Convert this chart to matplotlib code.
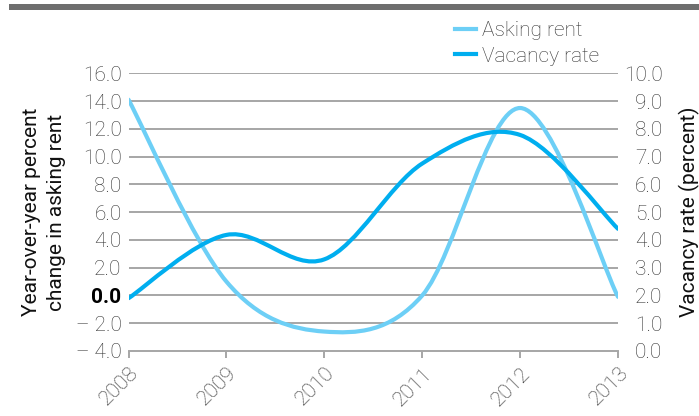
import matplotlib.pyplot as plt
import numpy as np
from matplotlib.path import Path
from matplotlib.patches import PathPatch, Rectangle
from matplotlib.lines import Line2D

plt.rcParams['font.family'] = ['Roboto', 'DejaVu Sans']
plt.rcParams['font.weight'] = 'light'

years = [2008, 2009, 2010, 2011, 2012, 2013]
asking_rent = [14.1, 1.0, -2.6, 0.0, 13.5, -0.1]     # year-over-year % change
vacancy_rate = [1.9, 4.18, 3.3, 6.75, 7.78, 4.4]     # percent

left_ticks = [16, 14, 12, 10, 8, 6, 4, 2, 0, -2, -4]
right_ticks = [10, 9, 8, 7, 6, 5, 4, 3, 2, 1, 0]

rent_color = '#6dcff6'
vac_color = '#00aeef'
grid_color = '#a6a6a6'
text_color = '#333333'
fs = 15


def smooth_path(x, y):
    """Cubic Bezier path through the points (spreadsheet-style smoothed line)."""
    x = np.asarray(x, float)
    y = np.asarray(y, float)
    n = len(x)
    verts = [(x[0], y[0])]
    codes = [Path.MOVETO]
    for i in range(n - 1):
        p0 = max(i - 1, 0)
        p3 = min(i + 2, n - 1)
        c1 = (x[i] + (x[i + 1] - x[p0]) / 6, y[i] + (y[i + 1] - y[p0]) / 6)
        c2 = (x[i + 1] - (x[p3] - x[i]) / 6, y[i + 1] - (y[p3] - y[i]) / 6)
        verts += [c1, c2, (x[i + 1], y[i + 1])]
        codes += [Path.CURVE4] * 3
    return Path(verts, codes)


fig = plt.figure(figsize=(6.99, 4.16), dpi=100)
ax = fig.add_axes([128.5 / 699, 1 - 351 / 416, (618 - 128.5) / 699, (351 - 73.3) / 416])
ax2 = ax.twinx()

# top rule
fig.patches.append(Rectangle((9 / 699, 1 - 9.5 / 416), 1, 5.5 / 416,
                             transform=fig.transFigure, color='#6e6e6e', lw=0))

ax.set_xlim(2008, 2013)
ax.set_ylim(-4, 16)
ax2.set_ylim(0, 10)

for v in left_ticks:
    if v != -4:
        ax.axhline(v, color=grid_color, lw=1.4, zorder=1)

ax.add_patch(PathPatch(smooth_path(years, asking_rent), fill=False,
                       edgecolor=rent_color, lw=3, zorder=3, capstyle='round'))
ax2.add_patch(PathPatch(smooth_path(years, vacancy_rate), fill=False,
                        edgecolor=vac_color, lw=3, zorder=3, capstyle='round'))

for s in ['top', 'left', 'right']:
    ax.spines[s].set_visible(False)
    ax2.spines[s].set_visible(False)
ax2.spines['bottom'].set_visible(False)
ax.spines['bottom'].set_color(grid_color)
ax.spines['bottom'].set_linewidth(1.4)

ax.set_xticks(years)
ax.set_xticklabels([str(y) for y in years], rotation=45, ha='right',
                   rotation_mode='anchor', color=text_color, fontsize=fs)
ax.tick_params(axis='x', length=5, width=1.4, color=grid_color, pad=4)

ax.set_yticks(left_ticks)
left_labels = [('\u2013 %.1f' % abs(v)) if v < 0 else '%.1f' % v for v in left_ticks]
ax.set_yticklabels(left_labels, fontsize=fs, color=text_color)
ax.tick_params(axis='y', length=0, pad=5)
for lab, v in zip(ax.get_yticklabels(), left_ticks):
    if v == 0:
        lab.set_color('black')
        lab.set_fontweight('bold')

ax2.set_yticks(right_ticks)
ax2.set_yticklabels(['%.1f' % v for v in right_ticks], fontsize=fs, color=text_color)
ax2.tick_params(axis='y', length=0, pad=32)
for lab in ax2.get_yticklabels():
    lab.set_horizontalalignment('right')

ax.set_ylabel('Year-over-year percent\nchange in asking rent', fontsize=fs,
              color='#111111', linespacing=1.4, fontweight='normal')
ax.yaxis.set_label_coords((66 - 128.5) / 489.5, 0.5)
ax2.set_ylabel('Vacancy rate (percent)', fontsize=fs, color='#111111',
               fontweight='normal')
ax2.yaxis.set_label_coords((679 - 128.5) / 489.5, 0.5)

handles = [Line2D([], [], color=rent_color, lw=3),
           Line2D([], [], color=vac_color, lw=3)]
fig.legend(handles, ['Asking rent', 'Vacancy rate'], loc='upper left',
           bbox_to_anchor=(445 / 699, 1 - 11 / 416), frameon=False,
           fontsize=fs, handlelength=1.0, handletextpad=0.3,
           labelspacing=0.3, borderpad=0, labelcolor=text_color)

fig.savefig('out.png', dpi=100)
